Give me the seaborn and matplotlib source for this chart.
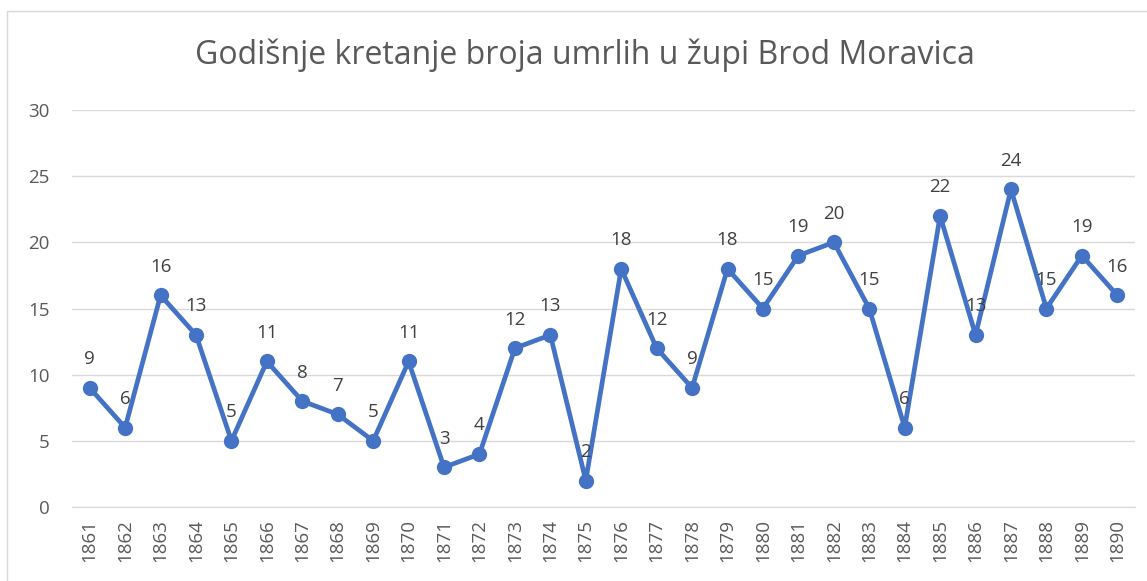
import matplotlib
matplotlib.use("Agg")
import matplotlib.pyplot as plt
import seaborn as sns
import pandas as pd
from matplotlib.lines import Line2D

years = [str(y) for y in range(1861, 1891)]
deaths = [9, 6, 16, 13, 5, 11, 8, 7, 5, 11, 3, 4, 12, 13, 2,
          18, 12, 9, 18, 15, 19, 20, 15, 6, 22, 13, 24, 15, 19, 16]
title = "Godišnje kretanje broja umrlih u župi Brod Moravica"

df = pd.DataFrame({"year": years, "deaths": deaths})

sns.set_style("white")
plt.rcParams['font.family'] = ['Open Sans', 'DejaVu Sans']

W, H = 1147, 581
fig = plt.figure(figsize=(W / 100, H / 100), dpi=100)
ax = fig.add_axes([72 / W, 1 - 507 / H, (1135 - 72) / W, (507 - 110) / H])

blue = "#4472C4"
sns.lineplot(data=df, x="year", y="deaths", ax=ax, color=blue, linewidth=3.4,
             marker="o", markersize=11, markeredgewidth=0, sort=False)

for i, v in enumerate(deaths):
    ax.annotate(str(v), (i, v), xytext=(0, 17), textcoords="offset points",
                ha="center", va="baseline", fontsize=13.5, color="#404040")

ax.set_xlim(-0.5, len(years) - 0.5)
ax.set_ylim(0, 30)
ax.set_yticks(range(0, 31, 5))
ax.grid(axis="y", color="#d9d9d9", linewidth=1)
ax.set_axisbelow(True)
for s in ["top", "right", "left"]:
    ax.spines[s].set_visible(False)
ax.spines["bottom"].set_color("#d9d9d9")
ax.tick_params(axis="both", length=0, labelsize=13.5, labelcolor="#595959")
ax.tick_params(axis="y", pad=16)
ax.tick_params(axis="x", pad=9)
ax.set_xticks(range(len(years)))
ax.set_xticklabels(years, rotation=90)
ax.set_xlabel("")
ax.set_ylabel("")

fig.text(585 / W, 1 - 55 / H, title, ha="center", va="center",
         fontsize=23, color="#595959")

# chart frame (top and left edges visible in the crop)
fig.add_artist(Line2D([7 / W, 1], [1 - 11 / H, 1 - 11 / H], color="#d9d9d9", lw=1))
fig.add_artist(Line2D([7 / W, 7 / W], [0, 1 - 11 / H], color="#d9d9d9", lw=1))

fig.savefig("out.png", dpi=100)
